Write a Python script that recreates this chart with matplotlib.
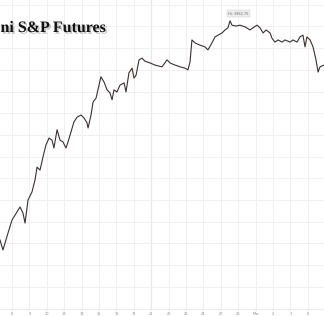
import matplotlib
matplotlib.use("Agg")
import matplotlib.pyplot as plt
import matplotlib.patheffects as pe

# session offsets (trading days from first labelled day) and price
days = [-0.69, -0.52, -0.23, 0.00, 0.29, 0.46, 0.63, 0.75, 0.92, 1.15, 1.32, 1.44,
        1.61, 1.78, 1.95, 2.13, 2.30, 2.41, 2.59, 2.76, 2.93, 3.10, 3.22, 3.39,
        3.56, 3.74, 3.97, 4.14, 4.31, 4.37, 4.54, 4.66, 4.83, 5.00, 5.11, 5.29,
        5.46, 5.63, 5.75, 5.86, 6.03, 6.21, 6.44, 6.55, 6.72, 6.90, 7.01, 7.13,
        7.30, 7.47, 7.64, 7.93, 8.22, 8.62, 8.91, 9.08, 9.37, 9.66, 9.94, 10.11,
        10.23, 10.34, 10.52, 10.80, 11.09, 11.26, 11.49, 11.67, 11.84, 12.07, 12.24, 12.41,
        12.53, 12.64, 12.87, 13.10, 13.39, 13.68, 13.85, 14.08, 14.25, 14.43, 14.60, 14.83,
        14.94, 15.11, 15.29, 15.52, 15.69, 15.98, 16.15, 16.38, 16.55, 16.72, 16.84, 16.95,
        17.13, 17.30, 17.47, 17.59, 17.70, 17.93]
price = [3458, 3435, 3474, 3504, 3523, 3534, 3520, 3497, 3550, 3569, 3596, 3626,
         3619, 3649, 3677, 3693, 3688, 3670, 3712, 3688, 3684, 3670, 3684, 3707,
         3730, 3741, 3746, 3739, 3728, 3716, 3746, 3776, 3785, 3815, 3834, 3822,
         3804, 3797, 3781, 3804, 3799, 3815, 3820, 3799, 3843, 3854, 3831, 3838,
         3873, 3877, 3870, 3866, 3861, 3857, 3873, 3866, 3861, 3857, 3854, 3850,
         3868, 3919, 3912, 3907, 3903, 3896, 3912, 3926, 3930, 3935, 3942, 3947,
         3963, 3953, 3951, 3953, 3949, 3942, 3947, 3953, 3947, 3935, 3942, 3935,
         3923, 3914, 3919, 3914, 3919, 3914, 3919, 3914, 3926, 3930, 3903, 3926,
         3919, 3903, 3873, 3845, 3857, 3861]

tick_labels = ["8", "9", "10", "13", "14", "15", "16", "17", "21", "22", "23",
               "24", "27", "28", "Mar", "2", "3", "6"]
hi_label = "Hi: 3962.75"

fig = plt.figure(figsize=(3.24, 3.16), dpi=100)
ax = fig.add_axes([0, 7 / 316, 1, 309 / 316])

ax.plot(days, price, color="#3a3030", lw=0.8, zorder=3)

ax.set_xlim(-0.69, 17.93)
ax.set_ylim(3299, 4011)
ax.set_xticks(range(len(tick_labels)))
ax.set_xticklabels(tick_labels, fontsize=2.5, color="#888888")
ax.set_yticks(range(3350, 4011, 50))
ax.tick_params(axis="x", length=1.5, width=0.3, color="#bbbbbb", pad=1)
ax.tick_params(axis="y", left=False, labelleft=False)
ax.grid(True, color="#eeeeee", lw=0.6)
ax.axvline(8, color="#d0d0d0", lw=0.8, zorder=1)
for s in ["top", "left", "right"]:
    ax.spines[s].set_visible(False)
ax.spines["bottom"].set_color("#e4e4e4")
ax.spines["bottom"].set_linewidth(0.5)

# high marker
i_hi = price.index(max(price))
ax.annotate(hi_label, (days[i_hi], price[i_hi]), xytext=(days[i_hi] + 0.5, 3979),
            fontsize=2.5, color="#666666", ha="center", va="center",
            bbox=dict(boxstyle="square,pad=0.4", fc="#eeeeee", ec="#cccccc", lw=0.3))

# title is cropped at the left edge in the source image
fig.text(0.5 / 324, 1 - 32 / 316, "ni S&P Futures", ha="left", va="baseline",
         fontsize=11.5, fontweight="bold", family="Liberation Serif", color="#111111",
         path_effects=[pe.withSimplePatchShadow(offset=(1.2, -1.2), shadow_rgbFace="#888888", alpha=0.5)])

fig.savefig("out.png", dpi=100)
